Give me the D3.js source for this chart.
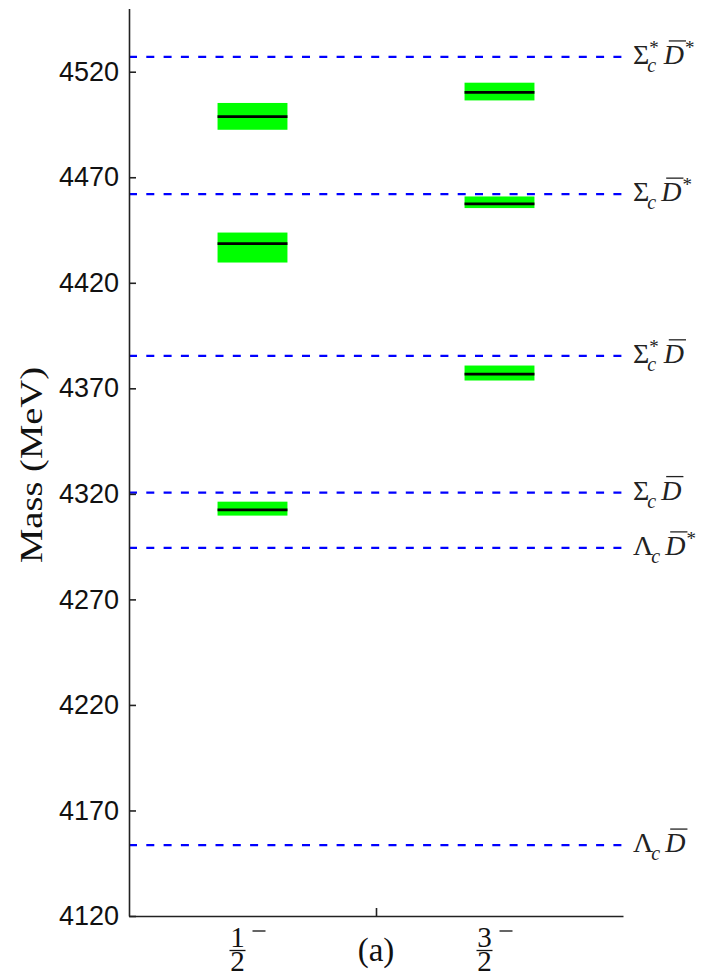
<!DOCTYPE html>
<html>
<head>
<meta charset="utf-8">
<script src="https://cdn.jsdelivr.net/npm/d3@7"></script>
<style>
  body { margin: 0; background: #fff; }
  svg { display: block; }
</style>
</head>
<body>
<svg id="chart" width="701" height="975"></svg>
<script>
// spin-parity columns (J^P) and their position on the x axis
const spinNumerators = ["1", "3"];
const spinPositions = [1, 3];

// predicted states: column index, central mass, band low/high (MeV)
const stateSpin = [0, 0, 0, 1, 1, 1];
const stateMass = [4498.7, 4438.6, 4312.4, 4510.2, 4457.4, 4376.7];
const stateLow = [4492.5, 4429.6, 4309.7, 4506.4, 4455.4, 4373.7];
const stateHigh = [4505.2, 4443.8, 4316.3, 4514.8, 4460.9, 4380.8];

// two-hadron thresholds
const thresholdMass = [4527, 4462, 4385.4, 4320.6, 4294.4, 4153.6];
const thresholdBaryon = ["Σ", "Σ", "Σ", "Σ", "Λ", "Λ"];
const thresholdBaryonStar = [true, false, true, false, false, false];
const thresholdMesonStar = [true, true, false, false, true, false];

const yTicks = [4120, 4170, 4220, 4270, 4320, 4370, 4420, 4470, 4520];

const svg = d3.select("#chart");
const serif = "'Liberation Serif', 'DejaVu Serif', serif";

const x = d3.scaleLinear().domain([0, 4]).range([129, 623]);
const y = d3.scaleLinear().domain([4120, 4550]).range([916, 8.4]);
const boxHalf = 0.283;

// thresholds
const thr = svg.append("g");
thr.selectAll("line")
  .data(thresholdMass)
  .join("line")
  .attr("x1", x(0))
  .attr("x2", x(4))
  .attr("y1", (d) => y(d))
  .attr("y2", (d) => y(d))
  .attr("stroke", "#0000ff")
  .attr("stroke-width", 2.2)
  .attr("stroke-dasharray", "8,9.3");

// bands and central values
const states = stateMass.map((m, i) => ({ m, lo: stateLow[i], hi: stateHigh[i], s: stateSpin[i] }));
const st = svg.append("g");
st.selectAll("rect")
  .data(states)
  .join("rect")
  .attr("x", (d) => x(spinPositions[d.s] - boxHalf))
  .attr("width", (d) => x(spinPositions[d.s] + boxHalf) - x(spinPositions[d.s] - boxHalf))
  .attr("y", (d) => y(d.hi))
  .attr("height", (d) => y(d.lo) - y(d.hi))
  .attr("fill", "#00ff00");
st.selectAll("line")
  .data(states)
  .join("line")
  .attr("x1", (d) => x(spinPositions[d.s] - boxHalf))
  .attr("x2", (d) => x(spinPositions[d.s] + boxHalf))
  .attr("y1", (d) => y(d.m))
  .attr("y2", (d) => y(d.m))
  .attr("stroke", "#000")
  .attr("stroke-width", 2.7);

// axes
const yAxis = svg.append("g")
  .attr("transform", `translate(${x(0)},0)`)
  .call(d3.axisLeft(y).tickValues(yTicks).tickSizeInner(-7).tickSizeOuter(0).tickPadding(10).tickFormat(d3.format("d")));
yAxis.selectAll("text")
  .attr("font-family", "'Liberation Sans', Arial, sans-serif")
  .attr("font-size", 27)
  .attr("fill", "#111");

svg.append("g")
  .attr("transform", `translate(0,${y(4120)})`)
  .call(d3.axisBottom(x).tickValues([2]).tickSizeInner(-8).tickSizeOuter(0).tickFormat(""));

svg.selectAll(".domain, .tick line").attr("stroke", "#222").attr("stroke-width", 1.6);

svg.append("text")
  .attr("x", x(2))
  .attr("y", 961)
  .attr("text-anchor", "middle")
  .attr("font-family", serif)
  .attr("font-size", 33)
  .attr("fill", "#111")
  .text("(a)");

// J^P labels as stacked fractions
spinPositions.forEach((p, i) => {
  const cx = x(p);
  const t = svg.append("text").attr("font-family", serif).attr("fill", "#111")
    .attr("font-size", 29).attr("text-anchor", "middle");
  t.append("tspan").attr("x", cx - 15).attr("y", 947).text(spinNumerators[i]);
  t.append("tspan").attr("x", cx - 15).attr("y", 971).text("2");
  svg.append("line").attr("x1", cx - 23).attr("x2", cx - 7).attr("y1", 950.5).attr("y2", 950.5)
    .attr("stroke", "#111").attr("stroke-width", 1.3);
  svg.append("line").attr("x1", cx).attr("x2", cx + 13).attr("y1", 931).attr("y2", 931)
    .attr("stroke", "#111").attr("stroke-width", 1.3);
});

// threshold names, e.g. Σ_c^* D̄^*, one text element with positioned tspans
function measure(str, size, italic) {
  const t = svg.append("text").attr("font-family", serif).attr("font-size", size)
    .attr("font-style", italic ? "italic" : "normal").text(str);
  const w = t.node().getComputedTextLength();
  t.remove();
  return w;
}

thresholdMass.forEach((m, i) => {
  const base = y(m) + 7;
  const txt = svg.append("text").attr("font-family", serif).attr("fill", "#222");
  let cx = 633;
  txt.append("tspan").attr("x", cx).attr("y", base).attr("font-size", 28).text(thresholdBaryon[i]);
  cx += measure(thresholdBaryon[i], 28, false);
  txt.append("tspan").attr("x", cx - 2).attr("y", base + 8).attr("font-size", 20)
    .attr("font-style", "italic").text("c");
  let w = measure("c", 20, true) - 2;
  if (thresholdBaryonStar[i]) {
    txt.append("tspan").attr("x", cx).attr("y", base - 10).attr("font-size", 19).text("*");
    w = Math.max(w, measure("*", 19, false));
  }
  cx += w + 5;
  txt.append("tspan").attr("x", cx).attr("y", base).attr("font-size", 28)
    .attr("font-style", "italic").text("D");
  const wd = measure("D", 28, true);
  svg.append("line").attr("x1", cx + 5).attr("x2", cx + wd + 2).attr("y1", base - 23).attr("y2", base - 23)
    .attr("stroke", "#222").attr("stroke-width", 1.3);
  cx += wd + 1;
  if (thresholdMesonStar[i]) {
    txt.append("tspan").attr("x", cx).attr("y", base - 10).attr("font-size", 19).text("*");
  }
});

// y label
svg.append("text")
  .attr("transform", "translate(42,465) rotate(-90)")
  .attr("text-anchor", "middle")
  .attr("font-family", serif)
  .attr("font-size", 31)
  .attr("fill", "#111")
  .attr("textLength", 196)
  .attr("lengthAdjust", "spacingAndGlyphs")
  .text("Mass (MeV)");
</script>
</body>
</html>
